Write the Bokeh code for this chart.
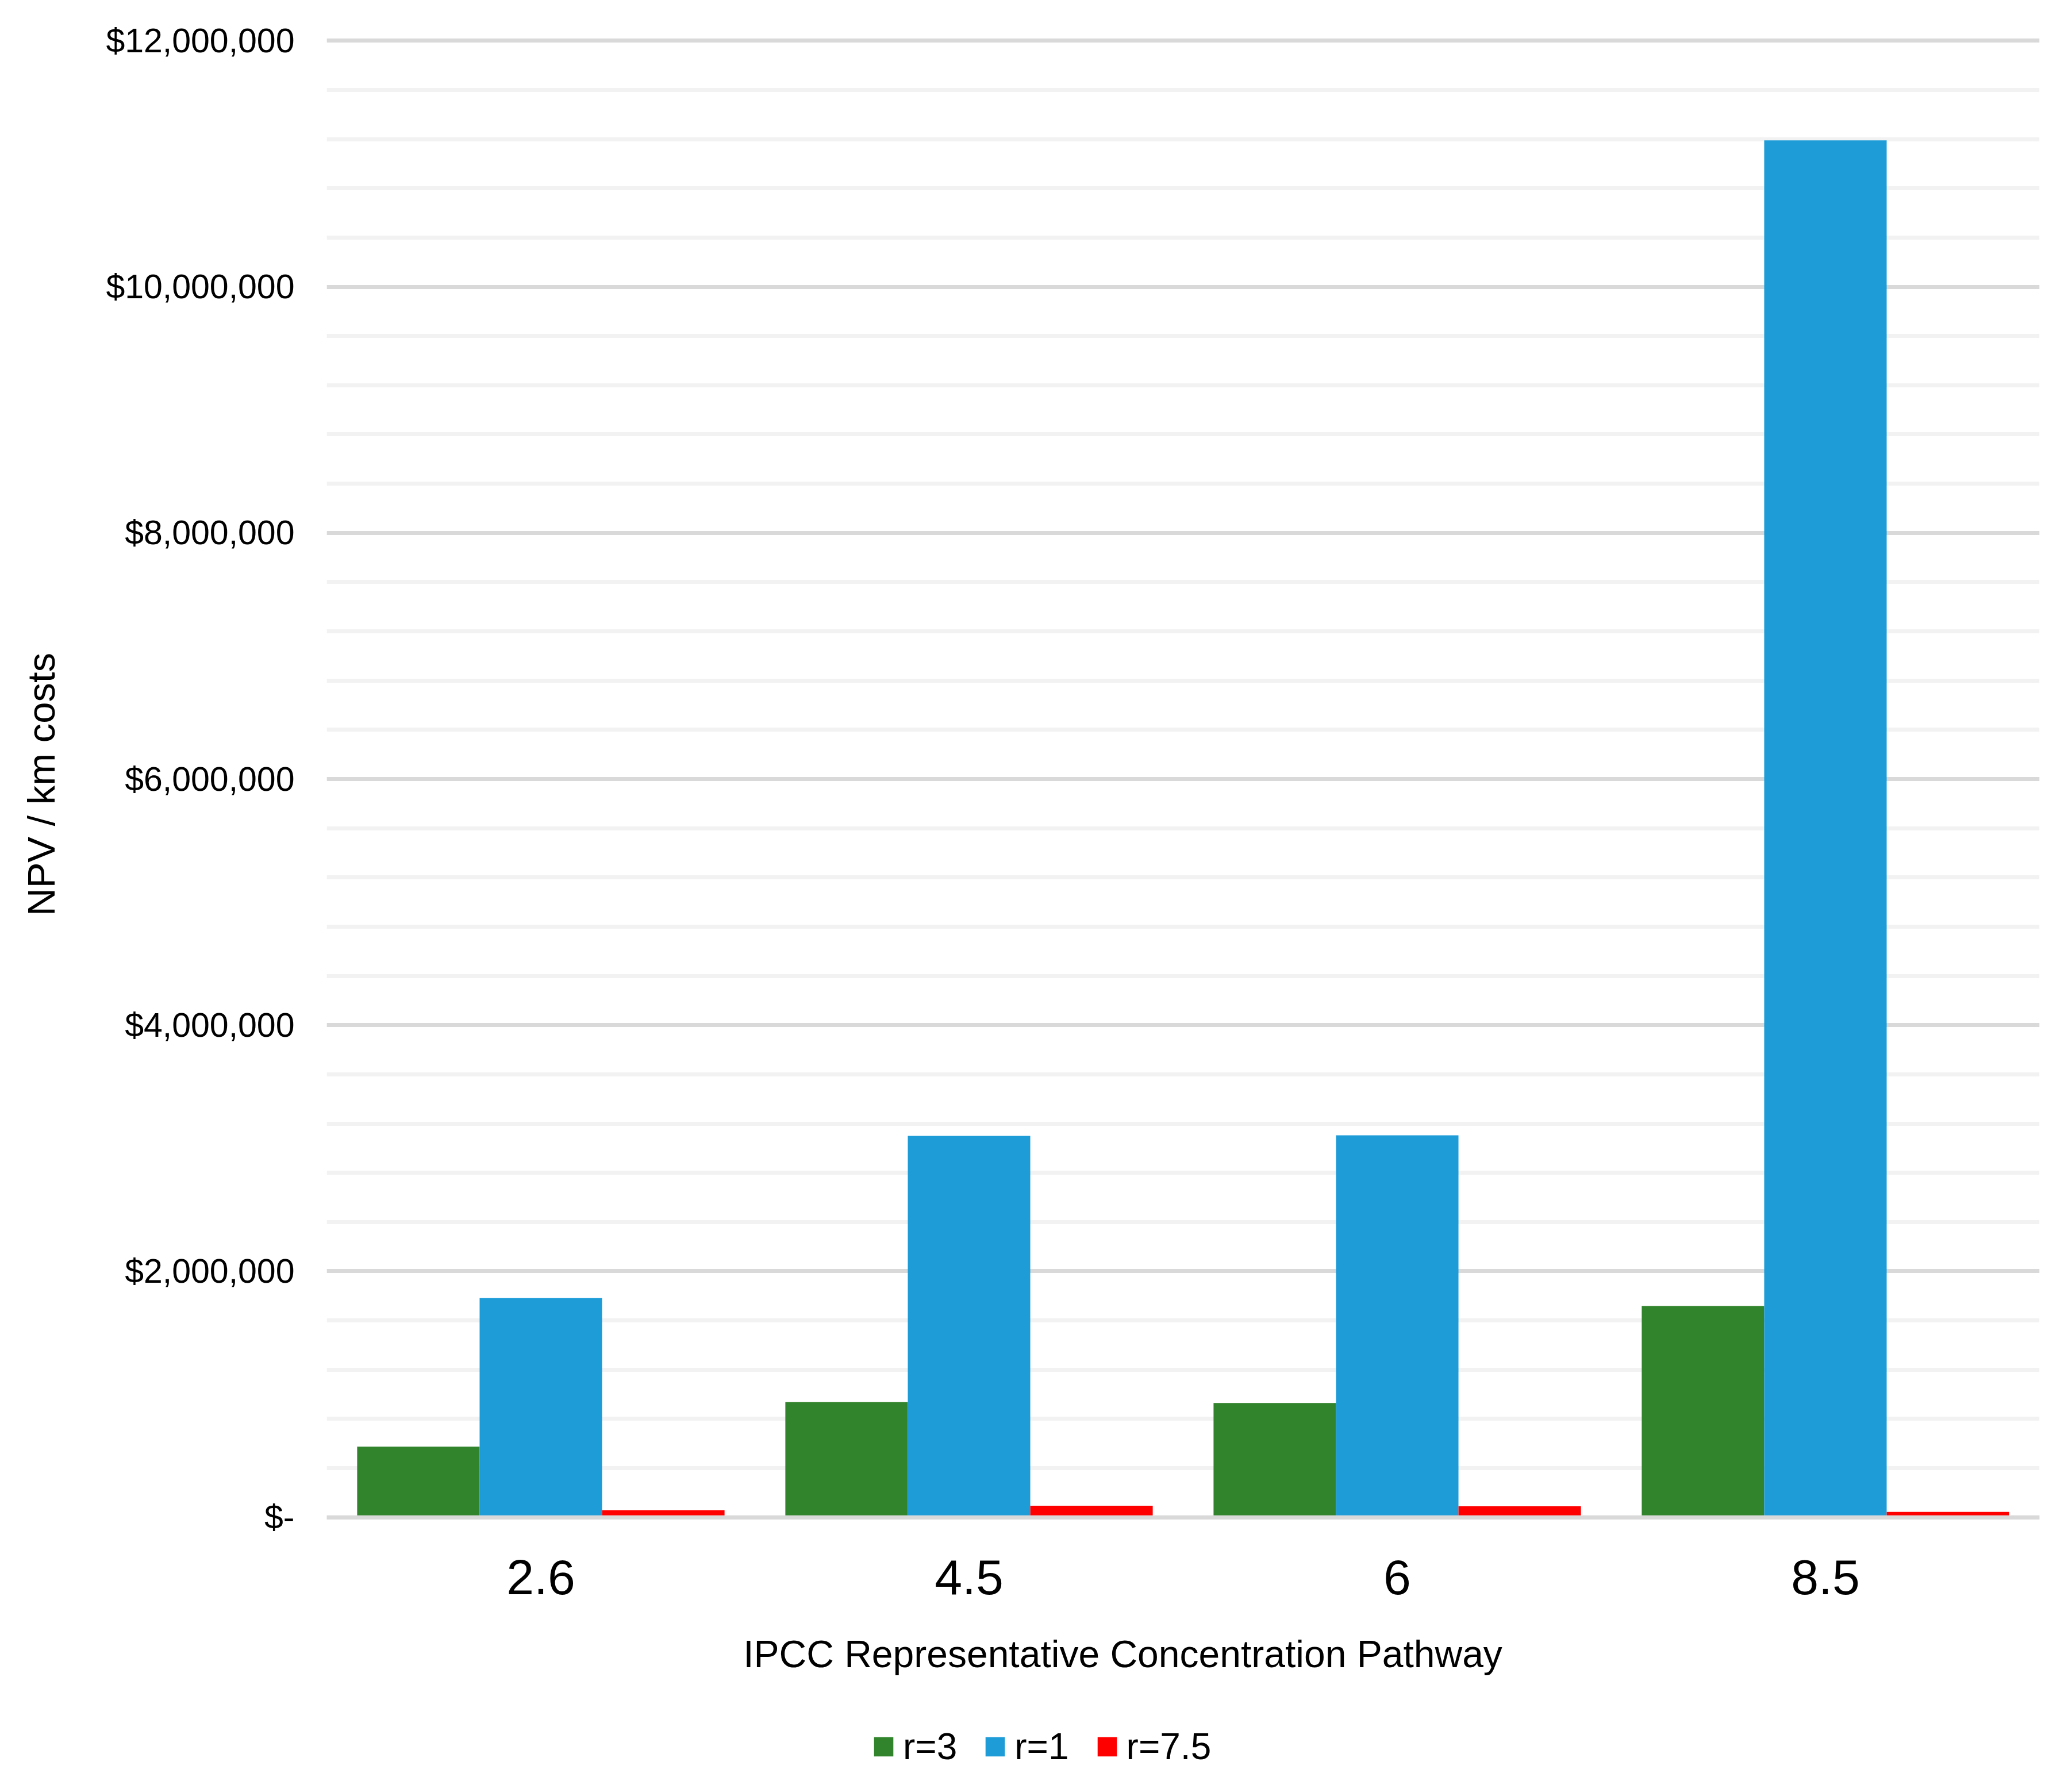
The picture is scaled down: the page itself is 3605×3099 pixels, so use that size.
from bokeh.plotting import figure
from bokeh.layouts import column
from bokeh.models import (ColumnDataSource, FactorRange, Range1d, FixedTicker, Legend,
                          LegendItem, Span, Label)
from bokeh.transform import dodge
from bokeh.embed import file_html
from bokeh.resources import INLINE

# ---- data ----
categories = ["2.6", "4.5", "6", "8.5"]
r3 = [574000, 936000, 929000, 1717000]
r1 = [1782000, 3100000, 3104000, 11190000]
r75 = [57000, 95000, 90000, 44000]
series_names = ["r=3", "r=1", "r=7.5"]
series_cols = ["r3", "r1", "r75"]
series_colors = ["#31842c", "#1e9cd8", "#ff0000"]
y_ticks = [0, 2000000, 4000000, 6000000, 8000000, 10000000, 12000000]
y_tick_labels = ["$-", "$2,000,000", "$4,000,000", "$6,000,000",
                 "$8,000,000", "$10,000,000", "$12,000,000"]
minor_step = 400000
x_title = "IPCC Representative Concentration Pathway"
y_title = "NPV / km  costs"

FONT = "Liberation Sans"
W = 3589

source = ColumnDataSource(dict(cat=categories, r3=r3, r1=r1, r75=r75))
bw = 0.286
offsets = [-bw, 0.0, bw]

# ---------------- main chart ----------------
p = figure(
    x_range=FactorRange(*categories),
    y_range=Range1d(-20000, 12020000),
    width=W, height=2830,
    output_backend="svg", toolbar_location=None,
    min_border_left=568, min_border_right=41,
    min_border_top=66, min_border_bottom=186,
    background_fill_color="white", border_fill_color="white",
)
p.outline_line_color = None

for col, off, color in zip(series_cols, offsets, series_colors):
    p.vbar(x=dodge("cat", off, range=p.x_range), top=col, width=bw,
           source=source, fill_color=color, line_color=None)

minor = [minor_step * i for i in range(int(12000000 / minor_step) + 1)]
p.yaxis.ticker = FixedTicker(ticks=y_ticks, minor_ticks=minor)
p.yaxis.major_label_overrides = {t: l for t, l in zip(y_ticks, y_tick_labels)}
p.ygrid.grid_line_color = "#d9d9d9"
p.ygrid.grid_line_width = 7
p.ygrid.minor_grid_line_color = "#f2f2f2"
p.ygrid.minor_grid_line_width = 7
p.xgrid.grid_line_color = None

# horizontal axis line drawn over the bars
p.add_layout(Span(location=0, dimension="width", line_color="#d9d9d9",
                  line_width=7, level="overlay"))

p.yaxis.axis_line_color = None
p.yaxis.major_tick_line_color = None
p.yaxis.minor_tick_line_color = None
p.yaxis.major_label_text_font = FONT
p.yaxis.major_label_text_font_size = "59px"
p.yaxis.major_label_text_color = "black"
p.yaxis.major_label_standoff = 50
p.yaxis.axis_label = y_title
p.yaxis.axis_label_text_font = FONT
p.yaxis.axis_label_text_font_size = "67px"
p.yaxis.axis_label_text_font_style = "normal"
p.yaxis.axis_label_text_color = "black"
p.yaxis.axis_label_standoff = 72

p.xaxis.axis_line_color = None
p.xaxis.major_tick_line_color = None
p.xaxis.minor_tick_line_color = None
p.xaxis.major_label_text_font = FONT
p.xaxis.major_label_text_font_size = "86px"
p.xaxis.major_label_text_color = "black"
p.xaxis.major_label_standoff = 64

# ---------------- x title + legend strip (frame aligned with p) ----------------
QH = 253
q = figure(width=W, height=QH, x_range=p.x_range, y_range=Range1d(-QH, 0),
           x_axis_type=None, y_axis_type=None, output_backend="svg",
           toolbar_location=None, min_border=0,
           background_fill_color="white", border_fill_color="white")
q.outline_line_color = None
q.grid.visible = False

# same series; bars lie above this strip's frame and are clipped away, they only feed the key
key_renderers = [q.vbar(x=dodge("cat", off, range=q.x_range), top=col, width=bw,
                        source=source, fill_color=color, line_color=None)
                 for col, off, color in zip(series_cols, offsets, series_colors)]

q.add_layout(Label(text=x_title, x=1385, y=206, x_units="screen", y_units="screen",
                   text_align="center", text_baseline="middle", text_font=FONT,
                   text_font_size="66px", text_color="black"))

legend = Legend(
    items=[LegendItem(label=n, renderers=[r]) for n, r in zip(series_names, key_renderers)],
    orientation="horizontal",
    location=(948, 7),
    label_text_font=FONT, label_text_font_size="64px", label_text_color="black",
    glyph_width=42, glyph_height=42, label_standoff=13, spacing=45,
    padding=0, margin=0, border_line_color=None, background_fill_alpha=0,
)
q.add_layout(legend, "center")

open("out.html", "w").write(file_html(column(p, q, spacing=0), INLINE))
